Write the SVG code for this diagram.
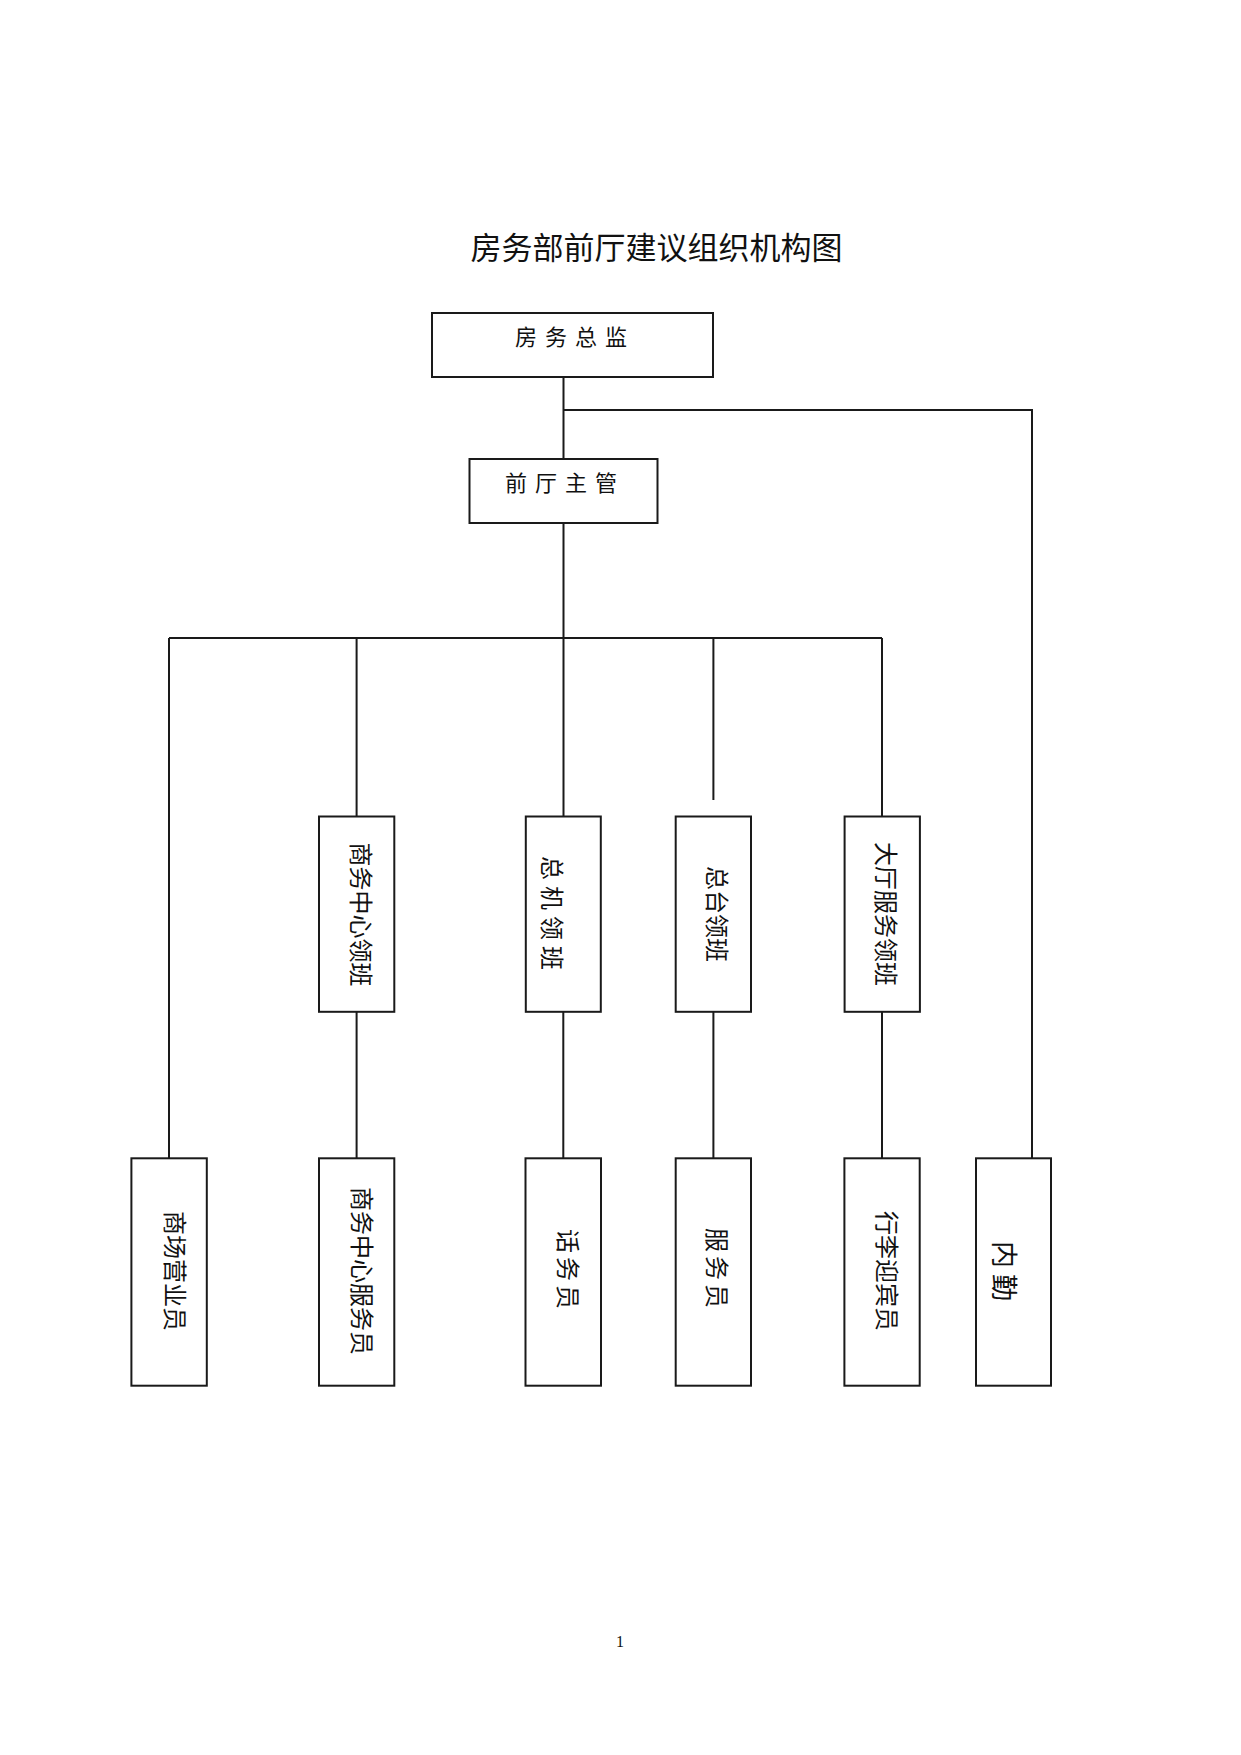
<svg xmlns="http://www.w3.org/2000/svg" width="1241" height="1755" viewBox="0 0 1241 1755">
<style>
.box{fill:#fff;stroke:#1a1a1a;stroke-width:2}
.ln{fill:none;stroke:#1a1a1a;stroke-width:2}
.t{font-family:"Noto Sans CJK SC","Noto Sans",sans-serif;fill:#111;text-anchor:middle;dominant-baseline:central}
.v{font-size:24px}
</style>
<rect width="1241" height="1755" fill="#fff"/>
<text class="t" x="656.5" y="245" font-size="31">房务部前厅建议组织机构图</text>
<g id="connectors">
<path class="ln" d="M563.5 377V459M563.5 410H1032V1158M563.5 523V817M169 638H882M169 638V1158M356.6 638V816.5M713.4 638V800M882 638V816.5M356.6 1012V1158M563.3 1012V1158M713.4 1012V1158M882 1012V1158"/>
</g>
<g id="n-fangwuzongjian"><rect class="box" x="432" y="313" width="281" height="64"/><text class="t" x="575" y="335" font-size="22" letter-spacing="8">房务总监</text></g>
<g id="n-qiantingzhuguan"><rect class="box" x="469.5" y="459" width="188" height="64"/><text class="t" x="565" y="481" font-size="22" letter-spacing="8">前厅主管</text></g>
<g id="n-swzxlb"><rect class="box" x="319" y="816.5" width="75.3" height="195.3"/><text class="t v" transform="rotate(90 362.8 914.5)" x="362.8" y="914.5">商务中心领班</text></g>
<g id="n-zjlb"><rect class="box" x="525.8" y="816.5" width="75" height="195.3"/><text class="t v" transform="rotate(90 553.6 913)" x="556.6" y="913" letter-spacing="6">总机领班</text></g>
<g id="n-ztlb"><rect class="box" x="675.7" y="816.5" width="75.3" height="195.3"/><text class="t v" transform="rotate(90 718.3 914)" x="718.3" y="914">总台领班</text></g>
<g id="n-dtfwlb"><rect class="box" x="844.6" y="816.5" width="75.3" height="195.3"/><text class="t v" transform="rotate(90 887.5 914)" x="887.5" y="914">大厅服务领班</text></g>
<g id="n-scyyy"><rect class="box" x="131.4" y="1158.3" width="75.4" height="227.4"/><text class="t v" transform="rotate(90 176 1271)" x="176" y="1271">商场营业员</text></g>
<g id="n-swzxfwy"><rect class="box" x="319" y="1158.3" width="75.3" height="227.4"/><text class="t v" transform="rotate(90 363.4 1271)" x="363.4" y="1271">商务中心服务员</text></g>
<g id="n-hwy"><rect class="box" x="525.5" y="1158.3" width="75.5" height="227.4"/><text class="t v" transform="rotate(90 569 1269)" x="571" y="1269" letter-spacing="4">话务员</text></g>
<g id="n-fwy"><rect class="box" x="675.7" y="1158.3" width="75.3" height="227.4"/><text class="t v" transform="rotate(90 718.7 1268)" x="720.7" y="1268" letter-spacing="4">服务员</text></g>
<g id="n-xlyby"><rect class="box" x="844.4" y="1158.3" width="75.3" height="227.4"/><text class="t v" transform="rotate(90 888 1271)" x="888" y="1271">行李迎宾员</text></g>
<g id="n-neiqin"><rect class="box" x="976" y="1158.3" width="75" height="227.4"/><text class="t" font-size="27" transform="rotate(90 1005 1271)" x="1008" y="1271" letter-spacing="6">内勤</text></g>
<text x="620" y="1647" font-family="Liberation Serif, serif" font-size="16" text-anchor="middle" fill="#111">1</text>
</svg>
